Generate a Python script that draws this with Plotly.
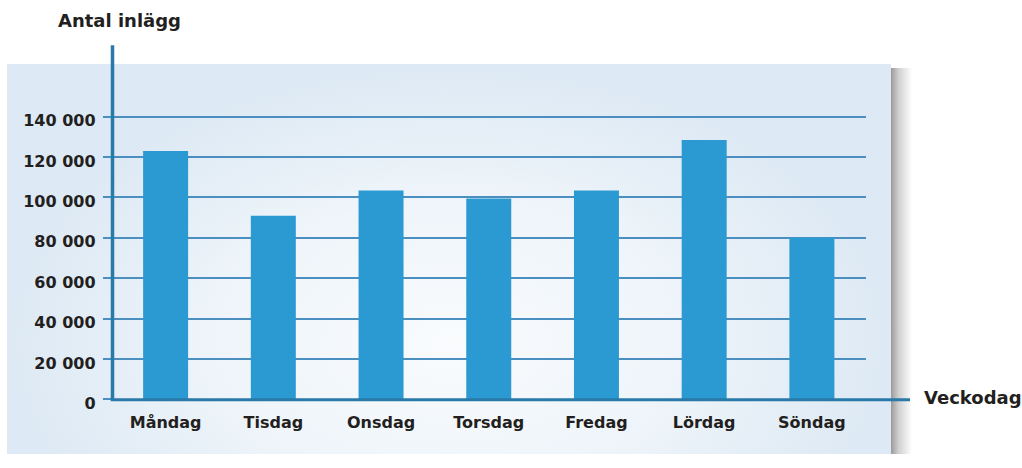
import plotly.graph_objects as go

# ---------------- data ----------------
days = ["Måndag", "Tisdag", "Onsdag", "Torsdag", "Fredag", "Lördag", "Söndag"]
posts = [123000, 91000, 103500, 99500, 103500, 128500, 80000]
tick_vals = [0, 20000, 40000, 60000, 80000, 100000, 120000, 140000]
tick_text = ["0", "20 000", "40 000", "60 000", "80 000", "100 000", "120 000", "140 000"]
y_title = "Antal inlägg"
x_title = "Veckodag"

# ---------------- layout constants ----------------
W, H = 1022, 468
FONT = "DejaVu Sans"
TXT = "#231f20"
BAR = "#2c9ad2"
AXIS = "#2979a9"
GRID = "#4a8fbf"

def px(x):
    return x / W

def py(y):
    return 1 - y / H

plot_left, plot_right = 111.75, 865.75
zero_px, per20k = 411.7, 41.63
top_px = 100
y_top = (zero_px - top_px) / per20k * 20000

fig = go.Figure()

# background panel (radial gradient) on a full-figure pixel subplot
fig.add_trace(go.Scatter(
    x=[7, 891, 891, 7, 7], y=[66, 66, 640, 640, 66],
    mode="lines", line=dict(width=0), fill="toself",
    fillgradient=dict(type="radial",
                      colorscale=[[0, "#f9fbfd"], [0.5, "#eff5fa"], [1, "#dde9f4"]]),
    hoverinfo="skip", showlegend=False, xaxis="x", yaxis="y"))
# right drop shadow
fig.add_trace(go.Scatter(
    x=[891, 912, 912, 891, 891], y=[70, 70, 470, 470, 70],
    mode="lines", line=dict(width=0), fill="toself",
    fillgradient=dict(type="horizontal", start=891, stop=912,
                      colorscale=[[0, "#9a9a9a"], [0.35, "#cfcfcf"], [1, "#ffffff"]]),
    hoverinfo="skip", showlegend=False, xaxis="x", yaxis="y"))

# bars
fig.add_trace(go.Bar(
    x=days, y=posts, marker=dict(color=BAR, line=dict(width=0)),
    xaxis="x2", yaxis="y2", showlegend=False, hoverinfo="x+y"))

fig.update_layout(
    width=W, height=H,
    margin=dict(l=0, r=0, t=0, b=0),
    paper_bgcolor="white", plot_bgcolor="rgba(0,0,0,0)",
    bargap=1 - 45 / ((plot_right - plot_left) / 7),
    font=dict(family=FONT, color=TXT, size=16, weight="bold"),
    xaxis=dict(domain=[0, 1], range=[0, W], visible=False, fixedrange=True),
    yaxis=dict(domain=[0, 1], range=[H, 0], visible=False, fixedrange=True),
    xaxis2=dict(domain=[px(plot_left), px(plot_right)], anchor="y2",
                range=[-0.5, 6.5], showgrid=False, showline=False, ticks="",
                tickfont=dict(family=FONT, size=16, color=TXT, weight="bold"),
                ticklabelstandoff=12),
    yaxis2=dict(domain=[py(zero_px), py(top_px)], anchor="x2",
                range=[0, y_top], tickvals=tick_vals, ticktext=tick_text,
                showgrid=True, gridcolor=GRID, gridwidth=1.5,
                ticks="outside", ticklen=8, tickcolor=GRID, tickwidth=1.5,
                showline=False, zeroline=False,
                tickfont=dict(family=FONT, size=16, color=TXT, weight="bold"),
                ticklabelshift=4, ticklabelstandoff=4),
)

# axis lines
fig.add_shape(type="line", xref="paper", yref="paper",
              x0=px(112.5), x1=px(112.5), y0=py(46.7), y1=py(413.2),
              line=dict(color=AXIS, width=3.5), layer="above")
fig.add_shape(type="line", xref="paper", yref="paper",
              x0=px(110.8), x1=px(910), y0=py(412), y1=py(412),
              line=dict(color=AXIS, width=3), layer="above")

# axis titles
fig.add_annotation(text=y_title, xref="paper", yref="paper",
                   x=px(56), y=py(21), xanchor="left", yanchor="middle",
                   showarrow=False, font=dict(family=FONT, size=18, color=TXT, weight="bold"))
fig.add_annotation(text=x_title, xref="paper", yref="paper",
                   x=px(922), y=py(409.5), xanchor="left", yanchor="middle",
                   showarrow=False, font=dict(family=FONT, size=18, color=TXT, weight="bold"))

fig.write_html("out.html", config={"displayModeBar": False},
               post_script="document.body.style.margin='0';document.body.style.overflow='hidden';")
